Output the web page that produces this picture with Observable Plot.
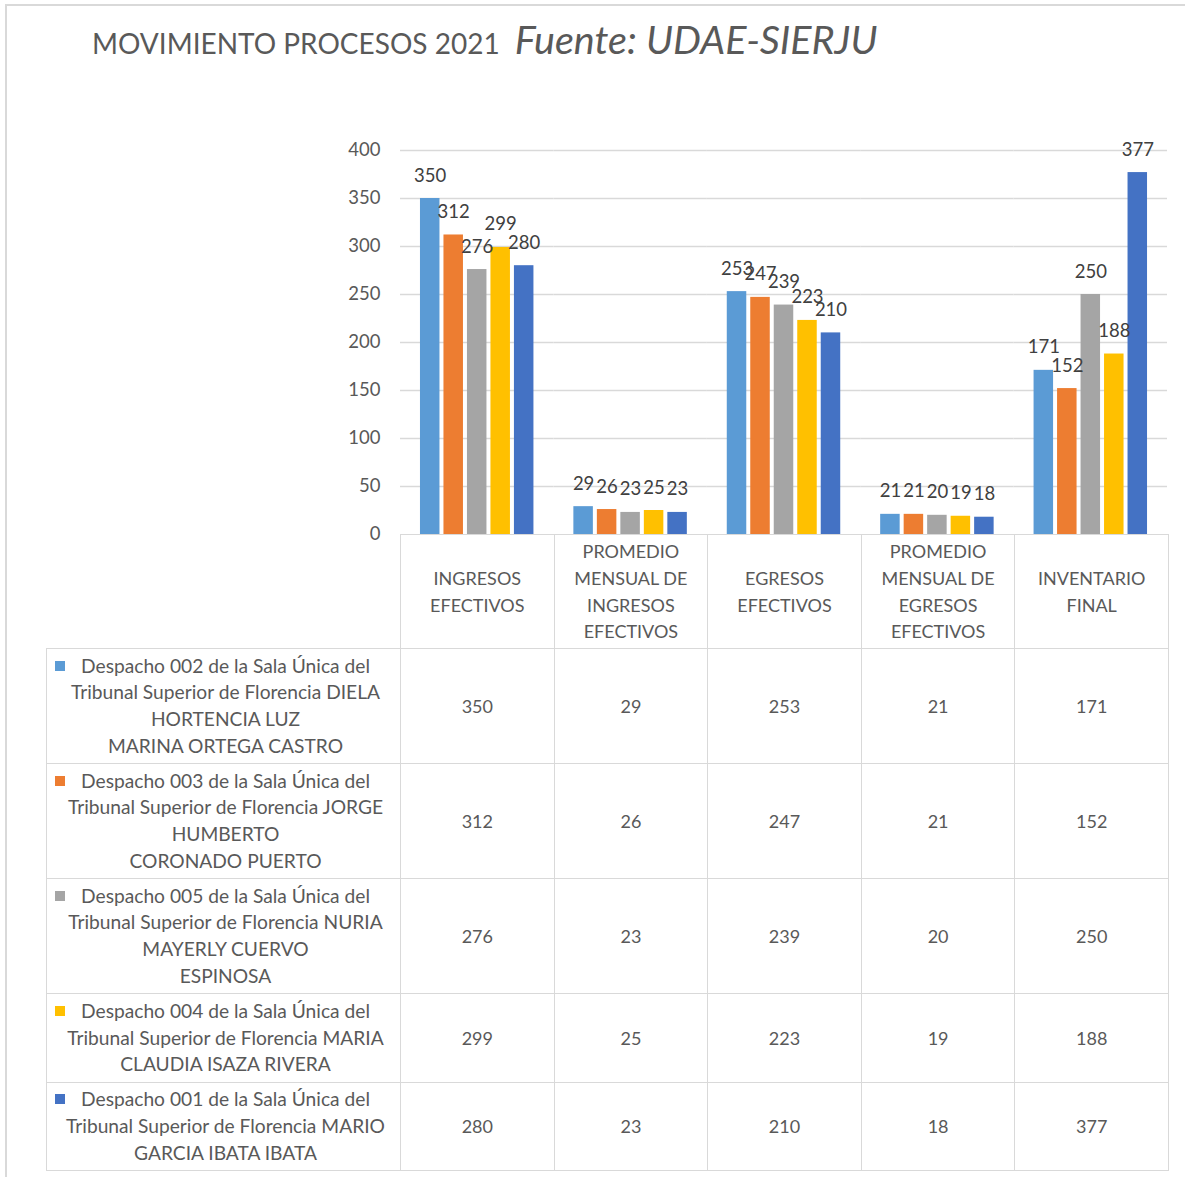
<!DOCTYPE html>
<html>
<head>
<meta charset="utf-8">
<script src="https://cdn.jsdelivr.net/npm/d3@7"></script>
<script src="https://cdn.jsdelivr.net/npm/@observablehq/plot@0.6"></script>
<style>
  body { margin: 0; background: #fff; }
  #root { position: relative; width: 1185px; height: 1177px; overflow: hidden; font-family: Lato, sans-serif; color: #595959; }
  #frame { position: absolute; left: 5px; top: 4px; width: 1300px; height: 1300px; border-left: 2px solid #d9d9d9; border-top: 2px solid #d9d9d9; }
  #title { position: absolute; left: 92px; top: 19px; white-space: nowrap; line-height: 1; }
  #title .t1 { font-size: 28px; }
  #title .t2 { font-size: 39.5px; font-style: italic; margin-left: 15px; }
  #chart { position: absolute; left: 0; top: 0; }
  #chart svg { overflow: visible; }
  table { position: absolute; left: 46px; top: 534px; border-collapse: collapse; table-layout: fixed; width: 1122px; }
  td { border: 1px solid #d9d9d9; text-align: center; vertical-align: middle; font-size: 18px; line-height: 26.7px; padding: 0; color: #595959; }
  td.blank { border-top: none; border-left: none; }
  td.labcell { font-size: 19.2px; }
  .lab { position: relative; padding-left: 4px; }
  .lab .first { position: relative; }
  .sq { position: absolute; left: 4px; top: 8px; width: 10px; height: 10px; }
</style>
</head>
<body>
<div id="root">
  <div id="frame"></div>
  <div id="title"><span class="t1">MOVIMIENTO PROCESOS 2021</span><span class="t2">Fuente: UDAE-SIERJU</span></div>
  <div id="chart"></div>
  <table id="tbl"></table>
</div>
<script>
// ---- data ----
const categories = ["INGRESOS EFECTIVOS", "PROMEDIO MENSUAL DE INGRESOS EFECTIVOS", "EGRESOS EFECTIVOS", "PROMEDIO MENSUAL DE EGRESOS EFECTIVOS", "INVENTARIO FINAL"];
const categoryLines = [
  ["INGRESOS", "EFECTIVOS"],
  ["PROMEDIO", "MENSUAL DE", "INGRESOS", "EFECTIVOS"],
  ["EGRESOS", "EFECTIVOS"],
  ["PROMEDIO", "MENSUAL DE", "EGRESOS", "EFECTIVOS"],
  ["INVENTARIO", "FINAL"]
];
const seriesKeys = ["Despacho 002", "Despacho 003", "Despacho 005", "Despacho 004", "Despacho 001"];
const seriesLines = [
  ["Despacho 002 de la Sala Única del", "Tribunal Superior de Florencia DIELA", "HORTENCIA LUZ", "MARINA ORTEGA CASTRO"],
  ["Despacho 003 de la Sala Única del", "Tribunal Superior de Florencia JORGE", "HUMBERTO", "CORONADO PUERTO"],
  ["Despacho 005 de la Sala Única del", "Tribunal Superior de Florencia NURIA", "MAYERLY CUERVO", "ESPINOSA"],
  ["Despacho 004 de la Sala Única del", "Tribunal Superior de Florencia MARIA", "CLAUDIA ISAZA RIVERA"],
  ["Despacho 001 de la Sala Única del", "Tribunal Superior de Florencia MARIO", "GARCIA IBATA IBATA"]
];
const despacho002 = [350, 29, 253, 21, 171];
const despacho003 = [312, 26, 247, 21, 152];
const despacho005 = [276, 23, 239, 20, 250];
const despacho004 = [299, 25, 223, 19, 188];
const despacho001 = [280, 23, 210, 18, 377];
const seriesValues = [despacho002, despacho003, despacho005, despacho004, despacho001];
const colors = ["#5B9BD5", "#ED7D31", "#A5A5A5", "#FFC000", "#4472C4"];
const yTicks = [0, 50, 100, 150, 200, 250, 300, 350, 400];

// ---- build rows ----
const rows = [];
seriesKeys.forEach((s, i) => categories.forEach((c, j) => rows.push({series: s, category: c, value: seriesValues[i][j]})));

const chart = Plot.plot({
  width: 1185,
  height: 535,
  marginLeft: 400,
  marginRight: 18,
  marginTop: 150,
  marginBottom: 1,
  style: {fontFamily: "Lato, sans-serif", fontSize: "18px", color: "#595959", background: "transparent", overflow: "visible"},
  fx: {domain: categories, padding: 0, round: false, axis: null},
  x: {domain: seriesKeys, paddingInner: 0.17, paddingOuter: 0.85, round: false, axis: null},
  y: {domain: [0, 400], axis: null},
  color: {domain: seriesKeys, range: colors},
  marks: [
    Plot.gridY(yTicks.filter(d => d > 0), {stroke: "#d9d9d9", strokeOpacity: 1, strokeWidth: 1.3}),
    Plot.axisY(yTicks, {tickSize: 0, tickPadding: 20, fontSize: 18.5, fill: "#595959", label: null}),
    Plot.barY(rows, {fx: "category", x: "series", y: "value", fill: "series"}),
    Plot.text(rows, {fx: "category", x: "series", y: "value", text: d => String(d.value), lineAnchor: "bottom", dy: -17, fontSize: 18.5, fill: "#404040"})
  ]
});
document.getElementById("chart").appendChild(chart);

// ---- data table ----
const tbl = document.getElementById("tbl");
const rowHeights = [114, 115, 115, 115, 89, 88];
const colg = document.createElement("colgroup");
colg.innerHTML = `<col style="width:354px">` + categories.map(() => `<col style="width:153.6px">`).join("");
tbl.appendChild(colg);
const hdr = document.createElement("tr");
hdr.style.height = rowHeights[0] + "px";
hdr.innerHTML = `<td class="blank"></td>` + categoryLines.map(ls => `<td>${ls.join("<br>")}</td>`).join("");
tbl.appendChild(hdr);
seriesKeys.forEach((s, i) => {
  const tr = document.createElement("tr");
  tr.style.height = rowHeights[i + 1] + "px";
  const lines = seriesLines[i];
  const lab = `<div class="lab"><div class="first"><span class="sq" style="background:${colors[i]}"></span>${lines[0]}</div>${lines.slice(1).map(l => `<div>${l}</div>`).join("")}</div>`;
  tr.innerHTML = `<td class="labcell">${lab}</td>` + seriesValues[i].map(v => `<td>${v}</td>`).join("");
  tbl.appendChild(tr);
});
</script>
</body>
</html>
